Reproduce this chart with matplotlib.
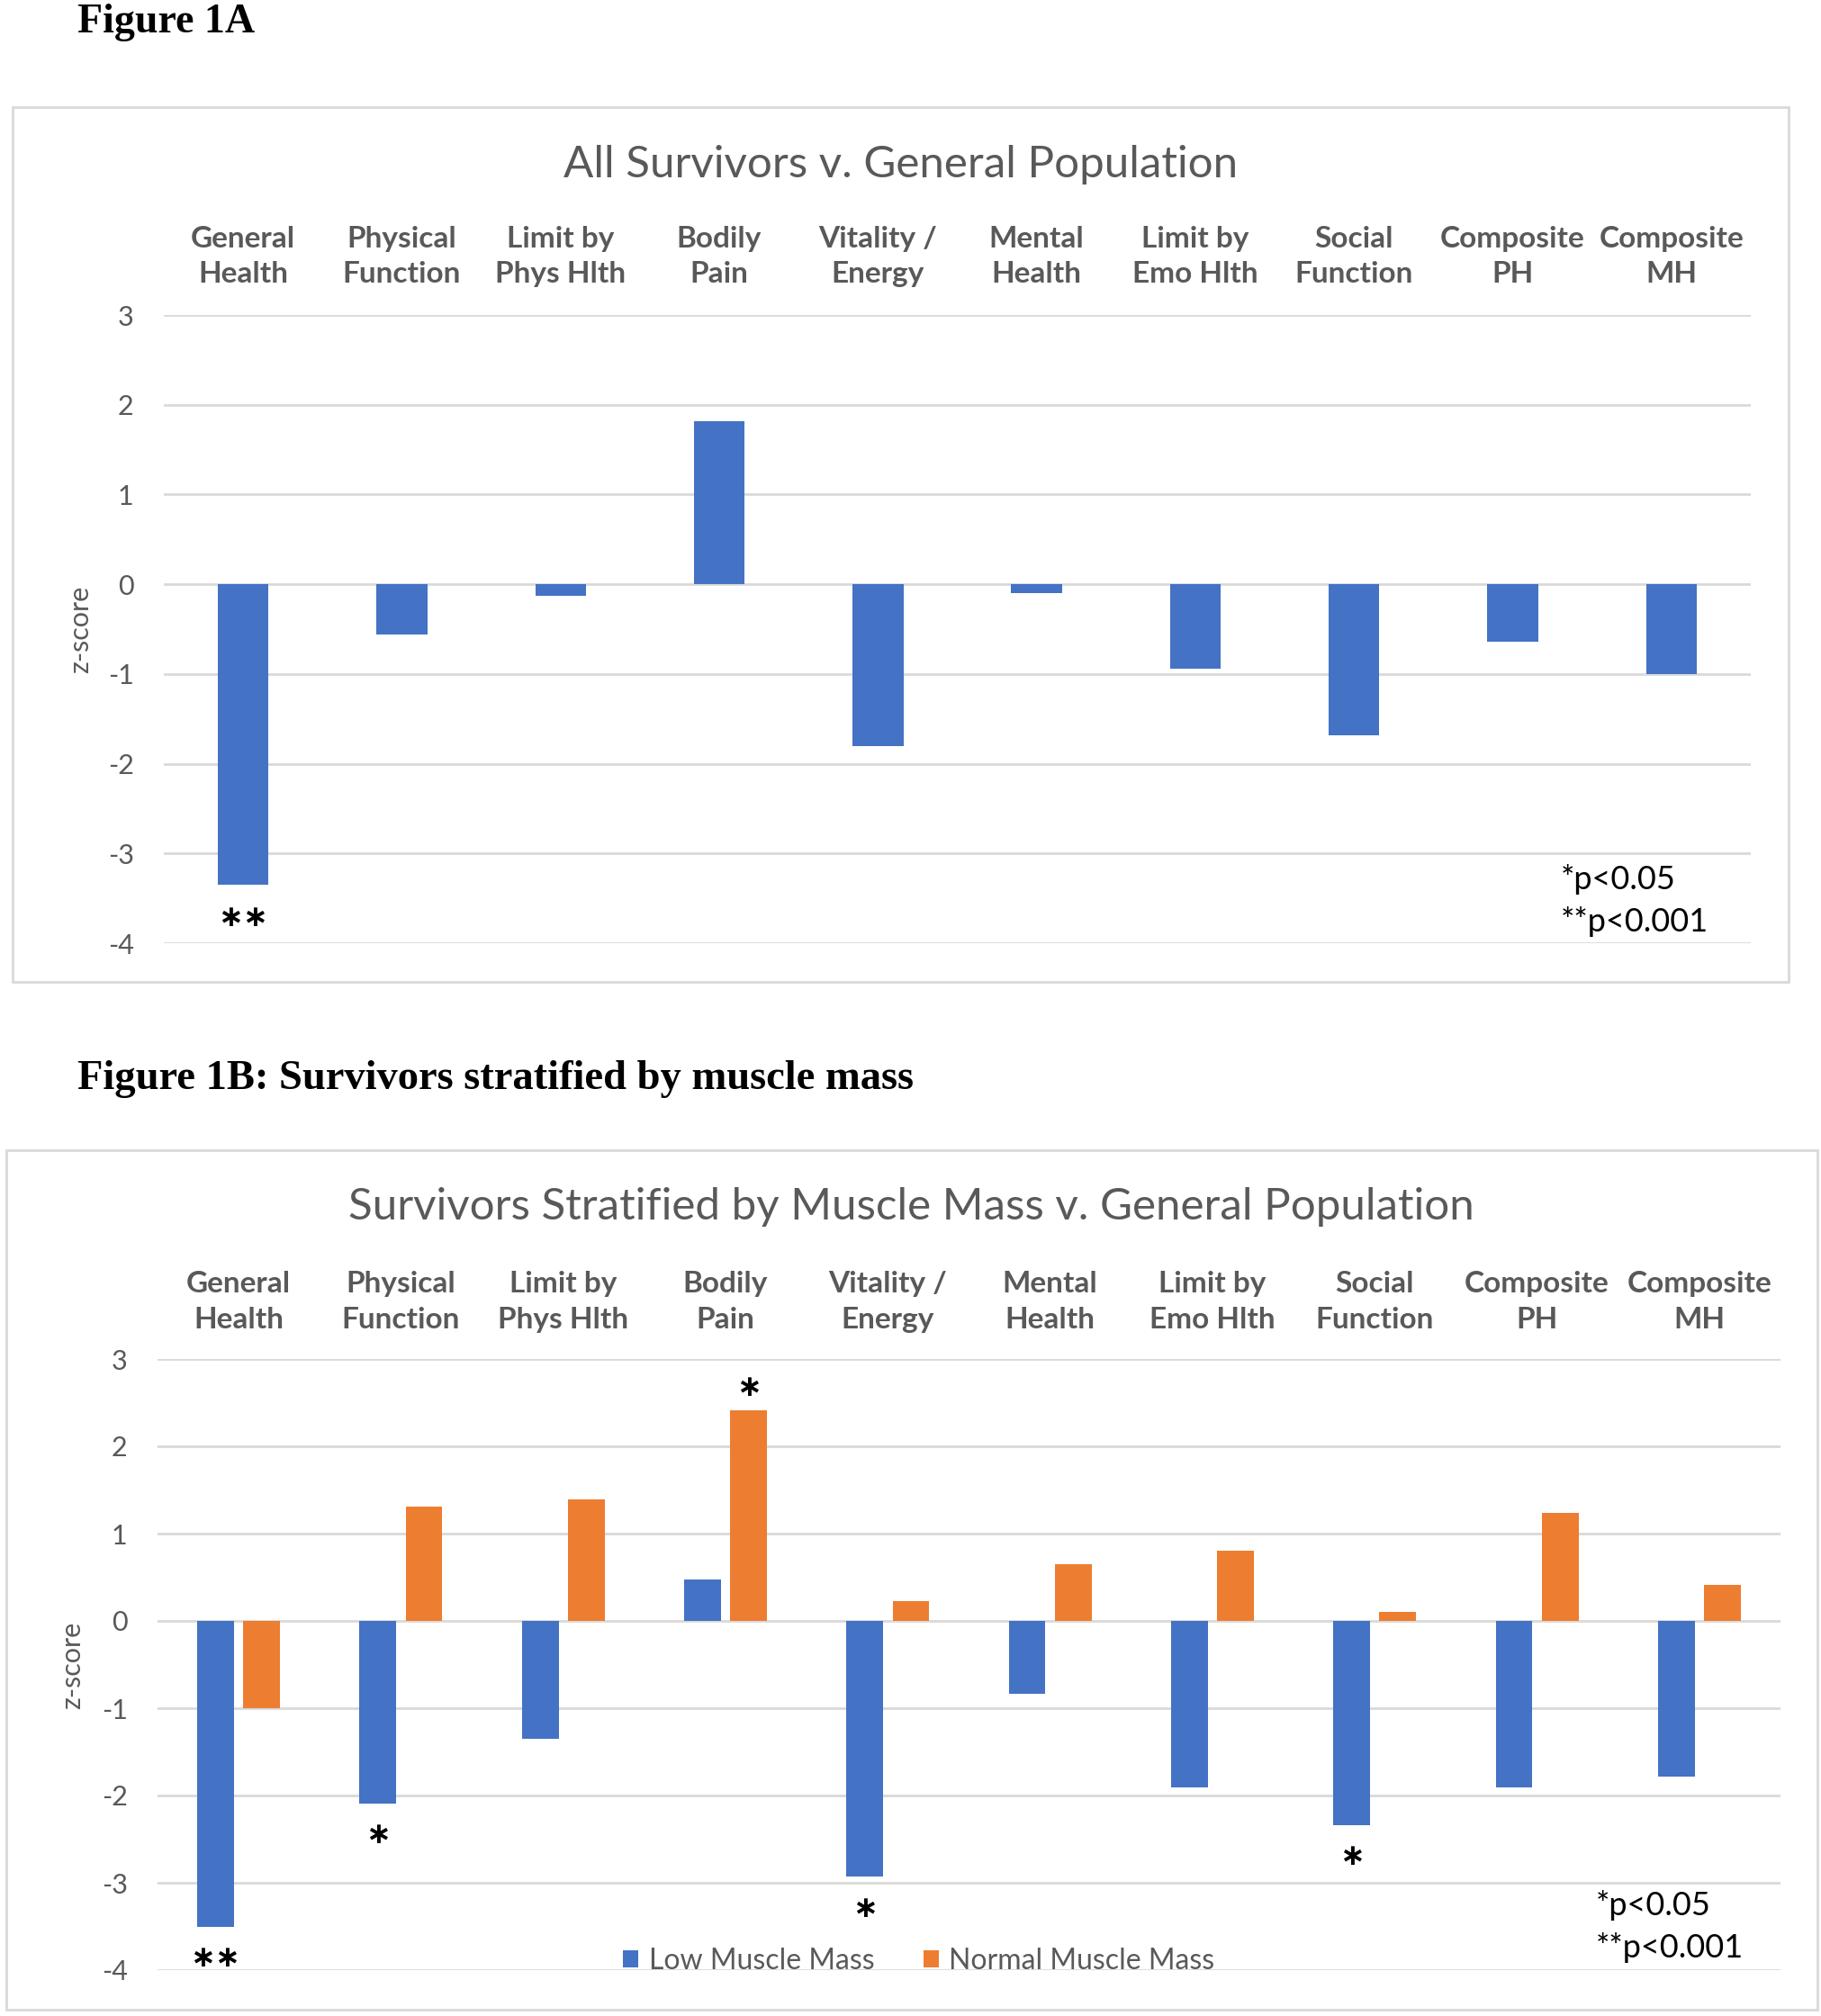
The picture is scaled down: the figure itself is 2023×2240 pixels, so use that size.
import matplotlib
matplotlib.use('Agg')
import matplotlib.pyplot as plt
from matplotlib.patches import Rectangle
import numpy as np

# Categories and values
categories = ['General\nHealth', 'Physical\nFunction', 'Limit by\nPhys Hlth', 'Bodily\nPain',
              'Vitality /\nEnergy', 'Mental\nHealth', 'Limit by\nEmo Hlth', 'Social\nFunction',
              'Composite\nPH', 'Composite\nMH']
all_survivors = [-3.35, -0.56, -0.13, 1.82, -1.80, -0.10, -0.94, -1.68, -0.64, -1.00]
low_muscle = [-3.50, -2.09, -1.35, 0.47, -2.93, -0.84, -1.91, -2.34, -1.91, -1.78]
normal_muscle = [-1.00, 1.31, 1.39, 2.41, 0.23, 0.65, 0.80, 0.10, 1.24, 0.41]

# significance marks: category index, which series, number of stars
sig_a_idx = [0]
sig_a_stars = [2]
sig_b_idx = [0, 1, 3, 4, 7]
sig_b_series = ['low', 'low', 'normal', 'low', 'low']
sig_b_stars = [2, 1, 1, 1, 1]

BLUE = '#4472C4'
ORANGE = '#ED7D31'
GRAY = '#595959'
GRID = '#D9D9D9'
FONT = 'Lato'

W, H = 2024, 2240
fig = plt.figure(figsize=(W / 100, H / 100), dpi=100)
fig.patch.set_facecolor('white')


def fx(px):
    return px / W


def fy(px):
    return 1 - px / H


def style_axes(ax):
    ax.set_xlim(-0.5, len(categories) - 0.5)
    ax.set_ylim(-4, 3)
    ax.set_yticks(range(-4, 4))
    ax.set_yticklabels([str(v) for v in range(-4, 4)], fontsize=22, color=GRAY, family=FONT)
    ax.tick_params(axis='y', length=0, pad=24)
    ax.set_xticks([])
    for s in ax.spines.values():
        s.set_visible(False)
    ax.grid(axis='y', color=GRID, linewidth=2)
    ax.set_axisbelow(True)
    for i, lab in enumerate(categories):
        ax.text(i, 1.093, lab, transform=ax.get_xaxis_transform(), ha='center', va='center',
                fontsize=24, fontweight='bold', color=GRAY, family=FONT, linespacing=1.45)


def mark(ax, x, value, n):
    y = value - 0.36 if value < 0 else value + 0.27
    ax.text(x, y, '\u2217' * n, ha='center', va='center', fontsize=24,
            color='black', family='DejaVu Sans', fontweight='bold')


# ---- Figure 1A ----
fig.text(fx(86), fy(25), 'Figure 1A', fontsize=33, fontweight='bold',
         family='Liberation Serif', ha='left', va='center')
fig.patches.append(Rectangle((fx(14), fy(1091)), fx(1973), 972 / H, transform=fig.transFigure,
                             fill=False, edgecolor=GRID, linewidth=2))
fig.text(fx(1001), fy(183), 'All Survivors v. General Population', fontsize=35.5,
         color=GRAY, family=FONT, ha='center', va='center')

ax1 = fig.add_axes([fx(182), fy(1048), fx(1945 - 182), 698 / H])
style_axes(ax1)
x = np.arange(len(categories))
ax1.bar(x, all_survivors, width=0.32, color=BLUE)
for i, n in zip(sig_a_idx, sig_a_stars):
    mark(ax1, i, all_survivors[i], n)
ax1.text(8.3, -3.29, '*p<0.05', fontsize=26, family=FONT, va='center', ha='left')
ax1.text(8.3, -3.76, '**p<0.001', fontsize=26, family=FONT, va='center', ha='left')
fig.text(fx(89), fy(699), 'z-score', rotation=90, fontsize=22, color=GRAY, family=FONT,
         ha='center', va='center')

# ---- Figure 1B ----
fig.text(fx(86), fy(1199), 'Figure 1B: Survivors stratified by muscle mass', fontsize=33.5,
         fontweight='bold', family='Liberation Serif', ha='left', va='center')
fig.patches.append(Rectangle((fx(7), fy(2233)), fx(2012), 955 / H, transform=fig.transFigure,
                             fill=False, edgecolor=GRID, linewidth=2))
fig.text(fx(1012), fy(1341), 'Survivors Stratified by Muscle Mass v. General Population',
         fontsize=35.5, color=GRAY, family=FONT, ha='center', va='center')

ax2 = fig.add_axes([fx(175), fy(2189), fx(1978 - 175), 679 / H])
style_axes(ax2)
off = 0.142
ax2.bar(x - off, low_muscle, width=0.226, color=BLUE, label='Low Muscle Mass')
ax2.bar(x + off, normal_muscle, width=0.226, color=ORANGE, label='Normal Muscle Mass')
for i, s, n in zip(sig_b_idx, sig_b_series, sig_b_stars):
    if s == 'low':
        mark(ax2, i - off, low_muscle[i], n)
    else:
        mark(ax2, i + off, normal_muscle[i], n)
ax2.text(8.36, -3.26, '*p<0.05', fontsize=26, family=FONT, va='center', ha='left')
ax2.text(8.36, -3.74, '**p<0.001', fontsize=26, family=FONT, va='center', ha='left')
fig.text(fx(80), fy(1850), 'z-score', rotation=90, fontsize=22, color=GRAY, family=FONT,
         ha='center', va='center')
leg = ax2.legend(loc='center', bbox_to_anchor=(0.469, 0.015), ncol=2, frameon=False,
                 handlelength=0.55, handleheight=0.55, handletextpad=0.35, columnspacing=1.7,
                 prop={'family': FONT, 'size': 23})
for t in leg.get_texts():
    t.set_color(GRAY)

fig.savefig('out.png', dpi=100, facecolor='white')
